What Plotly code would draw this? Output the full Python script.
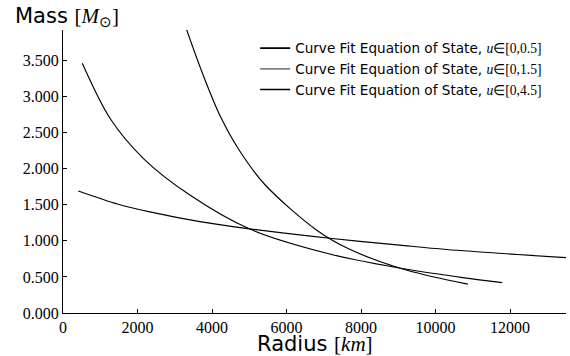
import plotly.graph_objects as go

# Curve 1: u in [0, 0.5]
r1 = [410, 1483, 2332, 3673, 5013, 7158, 9035, 10287, 13504]
m1 = [1.69, 1.506, 1.40, 1.265, 1.165, 1.035, 0.94, 0.88, 0.766]

# Curve 2: u in [0, 1.5]
r2 = [517, 1260, 2153, 3405, 5013, 7158, 8946, 10733, 11788]
m2 = [3.458, 2.697, 2.143, 1.634, 1.163, 0.817, 0.63, 0.49, 0.42]

# Curve 3: u in [0, 4.5]
r3 = [3300, 3761, 4209, 4727, 5416, 6801, 7694, 9212, 10866]
m3 = [3.95, 3.296, 2.74, 2.258, 1.78, 1.15, 0.882, 0.595, 0.40]

labels = ["0,0.5", "0,1.5", "0,4.5"]
legend_colors = ["black", "#808080", "black"]

y_ticks = [0, 0.5, 1.0, 1.5, 2.0, 2.5, 3.0, 3.5]
x_ticks = [0, 2000, 4000, 6000, 8000, 10000, 12000]

SERIF = "Liberation Serif"

fig = go.Figure()
for r, m in [(r1, m1), (r2, m2), (r3, m3)]:
    fig.add_trace(go.Scatter(x=r, y=m, mode="lines",
                             line=dict(color="black", width=1.15, shape="spline", smoothing=0.9),
                             showlegend=False, hoverinfo="skip"))

for lab, col in zip(labels, legend_colors):
    fig.add_trace(go.Scatter(
        x=[None], y=[None], mode="lines", line=dict(color=col, width=1.6),
        name=f"Curve Fit Equation of State, <span style='font-family:{SERIF}'><i>u</i>∈[{lab}]</span>",
    ))

fig.update_layout(
    width=570, height=356,
    margin=dict(l=63, r=4, t=30, b=43),
    paper_bgcolor="white", plot_bgcolor="white",
    font=dict(family="DejaVu Sans", color="black", size=14),
    legend=dict(x=0.382, y=0.99, xanchor="left", yanchor="top", bgcolor="rgba(0,0,0,0)",
                font=dict(size=13.6, family="DejaVu Sans"), itemwidth=30, tracegroupgap=0),
    xaxis=dict(range=[0, 13500], tickvals=x_ticks, ticktext=[str(v) for v in x_ticks],
               showgrid=False, zeroline=False, showline=True, linecolor="black", linewidth=1.3,
               ticks="inside", ticklen=4, tickcolor="black",
               tickfont=dict(family=SERIF, size=16, color="black")),
    yaxis=dict(range=[0, 3.92], tickvals=y_ticks, ticktext=[f"{v:.3f}" for v in y_ticks],
               showgrid=False, zeroline=False, showline=True, linecolor="black", linewidth=1.3,
               ticks="inside", ticklen=4, tickcolor="black",
               tickfont=dict(family=SERIF, size=16, color="black")),
    annotations=[
        dict(text=f"Mass <span style='font-family:{SERIF}'>[<i>M</i><sub>⊙</sub>]</span>",
             xref="paper", yref="paper", x=-0.1, y=1.0, xanchor="left", yanchor="bottom",
             yshift=-2, showarrow=False, font=dict(size=21, family="DejaVu Sans", color="black")),
        dict(text=f"Radius <span style='font-family:{SERIF}'>[<i>km</i>]</span>",
             xref="paper", yref="paper", x=0.5, y=0, xanchor="center", yanchor="top",
             yshift=-17, showarrow=False, font=dict(size=21, family="DejaVu Sans", color="black")),
    ],
)

fig.write_html("out.html")
